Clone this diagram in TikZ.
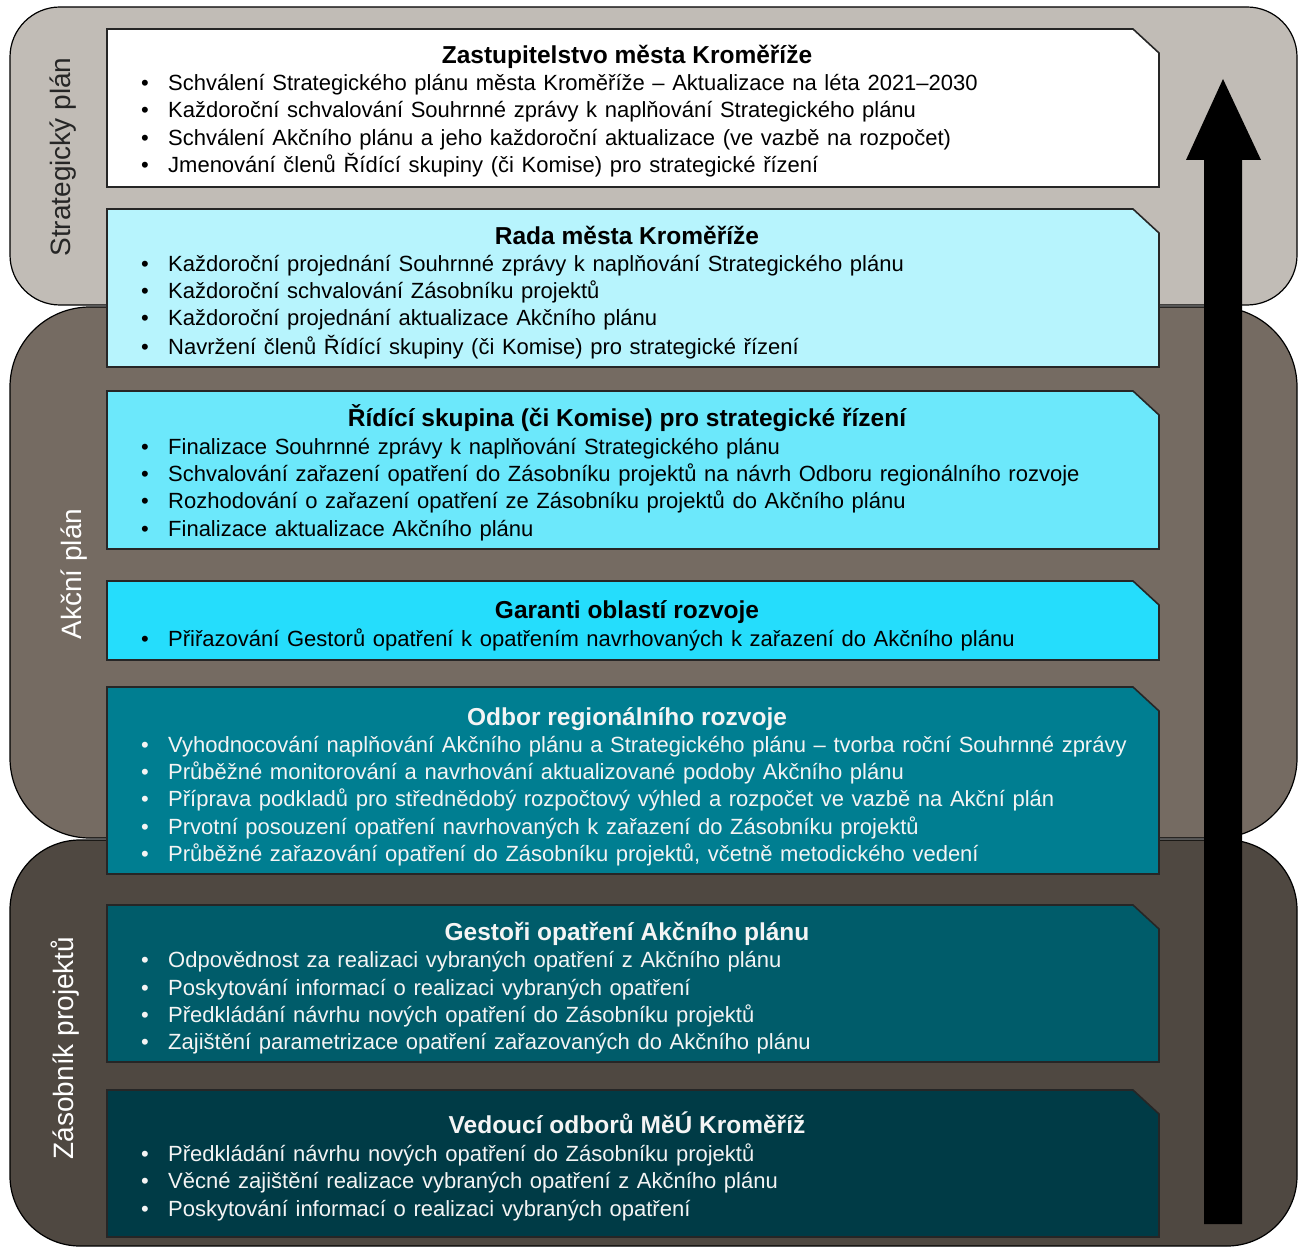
\documentclass[tikz,border=0pt]{standalone}
\usepackage{fontspec}
\setmainfont{Liberation Sans}
\definecolor{outerA}{HTML}{C1BCB6}
\definecolor{outerB}{HTML}{756B62}
\definecolor{outerC}{HTML}{4F4841}
\definecolor{boxA}{HTML}{FFFFFF}
\definecolor{boxB}{HTML}{B7F4FD}
\definecolor{boxC}{HTML}{6CE8FB}
\definecolor{boxD}{HTML}{25DDFC}
\definecolor{boxE}{HTML}{007E91}
\definecolor{boxF}{HTML}{005C6A}
\definecolor{boxG}{HTML}{003B46}
\definecolor{lighttext}{HTML}{F4F4F4}
\newcommand{\widesp}{\spaceskip 7.6pt plus 1pt minus 0.5pt\relax}
\newcommand{\snipbox}[4]{%
  \path[boxline,fill=#4] (107,#2) -- (1133,#2) -- (1159,#2+24) -- (1159,#3) -- (107,#3) -- cycle;
  \coordinate (#1) at (633,#2);}
\begin{document}
\begin{tikzpicture}[x=1pt,y=-1pt,
  outerbox/.style={draw=black,line width=1.2pt},
  boxline/.style={draw=black!85,line width=1.6pt},
  title/.style={anchor=base,inner sep=0pt,font=\fontsize{24.5}{28}\selectfont\bfseries},
  item/.style={anchor=base west,inner sep=0pt,font=\fontsize{22}{26}\selectfont\widesp},
  bul/.style={anchor=base,inner sep=0pt,font=\fontsize{22}{26}\selectfont},
  side/.style={rotate=90,anchor=base,inner sep=0pt,font=\fontsize{28}{32}\selectfont}]
\useasboundingbox (0,0) rectangle (1301,1249);
\fill[white] (0,0) rectangle (1301,1249);
% outer bands
\draw[outerbox,fill=outerC,rounded corners=70pt] (10,840) rectangle (1297,1246);
\draw[outerbox,fill=outerB,rounded corners=80pt] (10,307) rectangle (1297,838);
\draw[outerbox,fill=outerA,rounded corners=50pt] (10,7) rectangle (1297,305);
\node[side,text=black!85] (sp) at (70,157) {Strategický plán};
\node[side,text=white] (ap) at (81,574) {Akční plán};
\node[side,text=white] (zp) at (73,1048) {Zásobník projektů};
% arrow
\fill[black] (1204,1224) -- (1204,160) -- (1186,160) -- (1223,79) -- (1261,160) -- (1242,160) -- (1242,1224) -- cycle;
% inner boxes
\snipbox{bA}{29}{187}{boxA}
\snipbox{bB}{209}{367}{boxB}
\snipbox{bC}{391}{549}{boxC}
\snipbox{bD}{581}{660}{boxD}
\snipbox{bE}{687}{874}{boxE}
\snipbox{bF}{905}{1062}{boxF}
\snipbox{bG}{1090}{1237}{boxG}
% box A
\begin{scope}[every node/.append style={text=black}]
\node[title] (tA) at (627,64) {Zastupitelstvo města Kroměříže};
\node[bul] (uA1) at (145,91) {•}; \node[item] (iA1) at (168,91) {Schválení Strategického plánu města Kroměříže – Aktualizace na léta 2021–2030};
\node[bul] (uA2) at (145,118) {•}; \node[item] (iA2) at (168,118) {Každoroční schvalování Souhrnné zprávy k naplňování Strategického plánu};
\node[bul] (uA3) at (145,146) {•}; \node[item] (iA3) at (168,146) {Schválení Akčního plánu a jeho každoroční aktualizace (ve vazbě na rozpočet)};
\node[bul] (uA4) at (145,173) {•}; \node[item] (iA4) at (168,173) {Jmenování členů Řídící skupiny (či Komise) pro strategické řízení};
% box B
\node[title] (tB) at (627,245) {Rada města Kroměříže};
\node[bul] (uB1) at (145,272) {•}; \node[item] (iB1) at (168,272) {Každoroční projednání Souhrnné zprávy k naplňování Strategického plánu};
\node[bul] (uB2) at (145,299) {•}; \node[item] (iB2) at (168,299) {Každoroční schvalování Zásobníku projektů};
\node[bul] (uB3) at (145,326) {•}; \node[item] (iB3) at (168,326) {Každoroční projednání aktualizace Akčního plánu};
\node[bul] (uB4) at (145,354) {•}; \node[item] (iB4) at (168,354) {Navržení členů Řídící skupiny (či Komise) pro strategické řízení};
% box C
\node[title] (tC) at (627,426) {Řídící skupina (či Komise) pro strategické řízení};
\node[bul] (uC1) at (145,454) {•}; \node[item] (iC1) at (168,454) {Finalizace Souhrnné zprávy k naplňování Strategického plánu};
\node[bul] (uC2) at (145,481) {•}; \node[item] (iC2) at (168,481) {Schvalování zařazení opatření do Zásobníku projektů na návrh Odboru regionálního rozvoje};
\node[bul] (uC3) at (145,508) {•}; \node[item] (iC3) at (168,508) {Rozhodování o zařazení opatření ze Zásobníku projektů do Akčního plánu};
\node[bul] (uC4) at (145,536) {•}; \node[item] (iC4) at (168,536) {Finalizace aktualizace Akčního plánu};
% box D
\node[title] (tD) at (627,618) {Garanti oblastí rozvoje};
\node[bul] (uD1) at (145,646) {•}; \node[item] (iD1) at (168,646) {Přiřazování Gestorů opatření k opatřením navrhovaných k zařazení do Akčního plánu};
\end{scope}
\begin{scope}[every node/.append style={text=lighttext}]
% box E
\node[title] (tE) at (627,725) {Odbor regionálního rozvoje};
\node[bul] (uE1) at (145,752) {•}; \node[item] (iE1) at (168,752) {Vyhodnocování naplňování Akčního plánu a Strategického plánu – tvorba roční Souhrnné zprávy};
\node[bul] (uE2) at (145,779) {•}; \node[item] (iE2) at (168,779) {Průběžné monitorování a navrhování aktualizované podoby Akčního plánu};
\node[bul] (uE3) at (145,806) {•}; \node[item] (iE3) at (168,806) {Příprava podkladů pro střednědobý rozpočtový výhled a rozpočet ve vazbě na Akční plán};
\node[bul] (uE4) at (145,834) {•}; \node[item] (iE4) at (168,834) {Prvotní posouzení opatření navrhovaných k zařazení do Zásobníku projektů};
\node[bul] (uE5) at (145,861) {•}; \node[item] (iE5) at (168,861) {Průběžné zařazování opatření do Zásobníku projektů, včetně metodického vedení};
% box F
\node[title] (tF) at (627,940) {Gestoři opatření Akčního plánu};
\node[bul] (uF1) at (145,967) {•}; \node[item] (iF1) at (168,967) {Odpovědnost za realizaci vybraných opatření z Akčního plánu};
\node[bul] (uF2) at (145,995) {•}; \node[item] (iF2) at (168,995) {Poskytování informací o realizaci vybraných opatření};
\node[bul] (uF3) at (145,1022) {•}; \node[item] (iF3) at (168,1022) {Předkládání návrhu nových opatření do Zásobníku projektů};
\node[bul] (uF4) at (145,1049) {•}; \node[item] (iF4) at (168,1049) {Zajištění parametrizace opatření zařazovaných do Akčního plánu};
% box G
\node[title] (tG) at (627,1133) {Vedoucí odborů MěÚ Kroměříž};
\node[bul] (uG1) at (145,1161) {•}; \node[item] (iG1) at (168,1161) {Předkládání návrhu nových opatření do Zásobníku projektů};
\node[bul] (uG2) at (145,1188) {•}; \node[item] (iG2) at (168,1188) {Věcné zajištění realizace vybraných opatření z Akčního plánu};
\node[bul] (uG3) at (145,1216) {•}; \node[item] (iG3) at (168,1216) {Poskytování informací o realizaci vybraných opatření};
\end{scope}
\end{tikzpicture}
\end{document}
